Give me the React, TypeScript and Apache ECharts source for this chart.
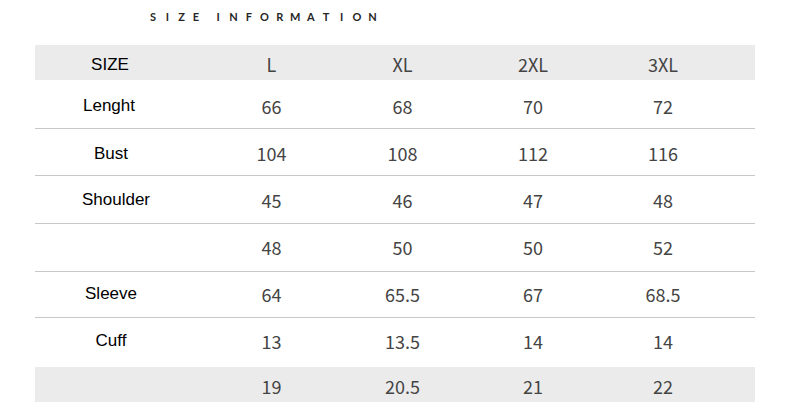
import React, { useEffect, useRef } from "react";
import * as echarts from "echarts";

// ---- data ----
const titleText = "SIZE INFORMATION";
const headerLabel = "SIZE";
const sizes = ["L", "XL", "2XL", "3XL"];
const measures = ["Lenght", "Bust", "Shoulder", "", "Sleeve", "Cuff", ""];
const lengthValues = [66, 68, 70, 72];
const bustValues = [104, 108, 112, 116];
const shoulderValues = [45, 46, 47, 48];
const unnamedValues = [48, 50, 50, 52];
const sleeveValues = [64, 65.5, 67, 68.5];
const cuffValues = [13, 13.5, 14, 14];
const lastValues = [19, 20.5, 21, 22];
const valueRows = [
  lengthValues,
  bustValues,
  shoulderValues,
  unnamedValues,
  sleeveValues,
  cuffValues,
  lastValues,
];

// ---- layout (axis units = px inside the grid) ----
const GRID_W = 720;
const GRID_H = 357;
const colCenters = [76, 236.5, 367.5, 498, 628];
const labelShift = [-1, -2, 0, 5, 0, 0, 0, 0];
const rowEdges = [0, 35, 83, 130, 178, 225.5, 272.3, 322, 357];
const rowTextShift = [1.5, 1.5, 1.5, 0.5, 0, 0, -1.5, 1];
const shadedRows = [0, 7];
const separatorEdges = [83, 130, 178, 225.5, 272.3];

type Cell = { col: number; row: number; text: string; isLabel: boolean };

function buildCells(): Cell[] {
  const cells: Cell[] = [];
  cells.push({ col: 0, row: 0, text: headerLabel, isLabel: true });
  sizes.forEach((s, i) => cells.push({ col: i + 1, row: 0, text: s, isLabel: false }));
  measures.forEach((m, r) => {
    if (m) cells.push({ col: 0, row: r + 1, text: m, isLabel: true });
    valueRows[r].forEach((v, i) =>
      cells.push({ col: i + 1, row: r + 1, text: String(v), isLabel: false })
    );
  });
  return cells;
}

export default function App() {
  const ref = useRef<HTMLDivElement>(null);

  useEffect(() => {
    document.body.style.margin = "0";
    if (!ref.current) return;
    const chart = echarts.init(ref.current, null, { renderer: "svg" });
    const cells = buildCells();
    const rowMid = (r: number) => (rowEdges[r] + rowEdges[r + 1]) / 2 + rowTextShift[r];
    const cellX = (c: Cell) => colCenters[c.col] + (c.col === 0 ? labelShift[c.row] : 0);

    // title letters, letter-spaced
    const titleGraphics: any[] = [];
    const words = titleText.split(" ");
    const pitches = [14.3, 15.45];
    const starts = [153, 218];
    words.forEach((w, wi) => {
      w.split("").forEach((ch, ci) => {
        titleGraphics.push({
          type: "text",
          x: starts[wi] + ci * pitches[wi],
          y: 16,
          style: {
            text: ch,
            fill: "#262626",
            font: "bold 11px Lato, 'DejaVu Sans', sans-serif",
            align: "center",
            verticalAlign: "middle",
          },
        });
      });
    });

    chart.setOption({
      animation: false,
      grid: { left: 35, right: 35, top: 45, bottom: 10 },
      xAxis: { type: "value", min: 0, max: GRID_W, show: false },
      yAxis: { type: "value", min: 0, max: GRID_H, inverse: true, show: false },
      graphic: titleGraphics,
      series: [
        {
          type: "custom",
          silent: true,
          coordinateSystem: "cartesian2d",
          data: shadedRows.map((r) => [r, r]),
          encode: { x: 0, y: 1 },
          renderItem: (params: any, api: any) => {
            const r = shadedRows[params.dataIndex];
            const p0 = api.coord([0, rowEdges[r]]);
            const p1 = api.coord([GRID_W, rowEdges[r + 1]]);
            return {
              type: "rect",
              shape: { x: p0[0], y: p0[1], width: p1[0] - p0[0], height: p1[1] - p0[1] },
              style: { fill: "#ebebeb" },
            };
          },
          z: 1,
        },
        {
          type: "custom",
          silent: true,
          coordinateSystem: "cartesian2d",
          data: separatorEdges.map((e) => [0, e]),
          encode: { x: 0, y: 1 },
          renderItem: (params: any, api: any) => {
            const e = separatorEdges[params.dataIndex];
            const p0 = api.coord([0, e]);
            const p1 = api.coord([GRID_W, e]);
            const y = Math.round(p0[1]) + 0.5;
            return {
              type: "line",
              shape: { x1: p0[0], y1: y, x2: p1[0], y2: y },
              style: { stroke: "#c8c8c8", lineWidth: 1 },
            };
          },
          z: 2,
        },
        {
          type: "custom",
          silent: true,
          coordinateSystem: "cartesian2d",
          data: cells.map((c) => [cellX(c), rowMid(c.row)]),
          encode: { x: 0, y: 1 },
          renderItem: (params: any, api: any) => {
            const c = cells[params.dataIndex];
            const p = api.coord([cellX(c), rowMid(c.row)]);
            return {
              type: "text",
              x: p[0],
              y: p[1],
              style: {
                text: c.text,
                fill: c.isLabel ? "#000000" : "#444444",
                font: c.isLabel
                  ? "17px 'Liberation Sans', Arial, sans-serif"
                  : "18px 'Noto Sans CJK SC', 'Noto Sans', sans-serif",
                align: "center",
                verticalAlign: "middle",
              },
            };
          },
          z: 3,
        },
      ],
    });
    return () => chart.dispose();
  }, []);

  return <div ref={ref} style={{ width: 790, height: 412 }} />;
}
